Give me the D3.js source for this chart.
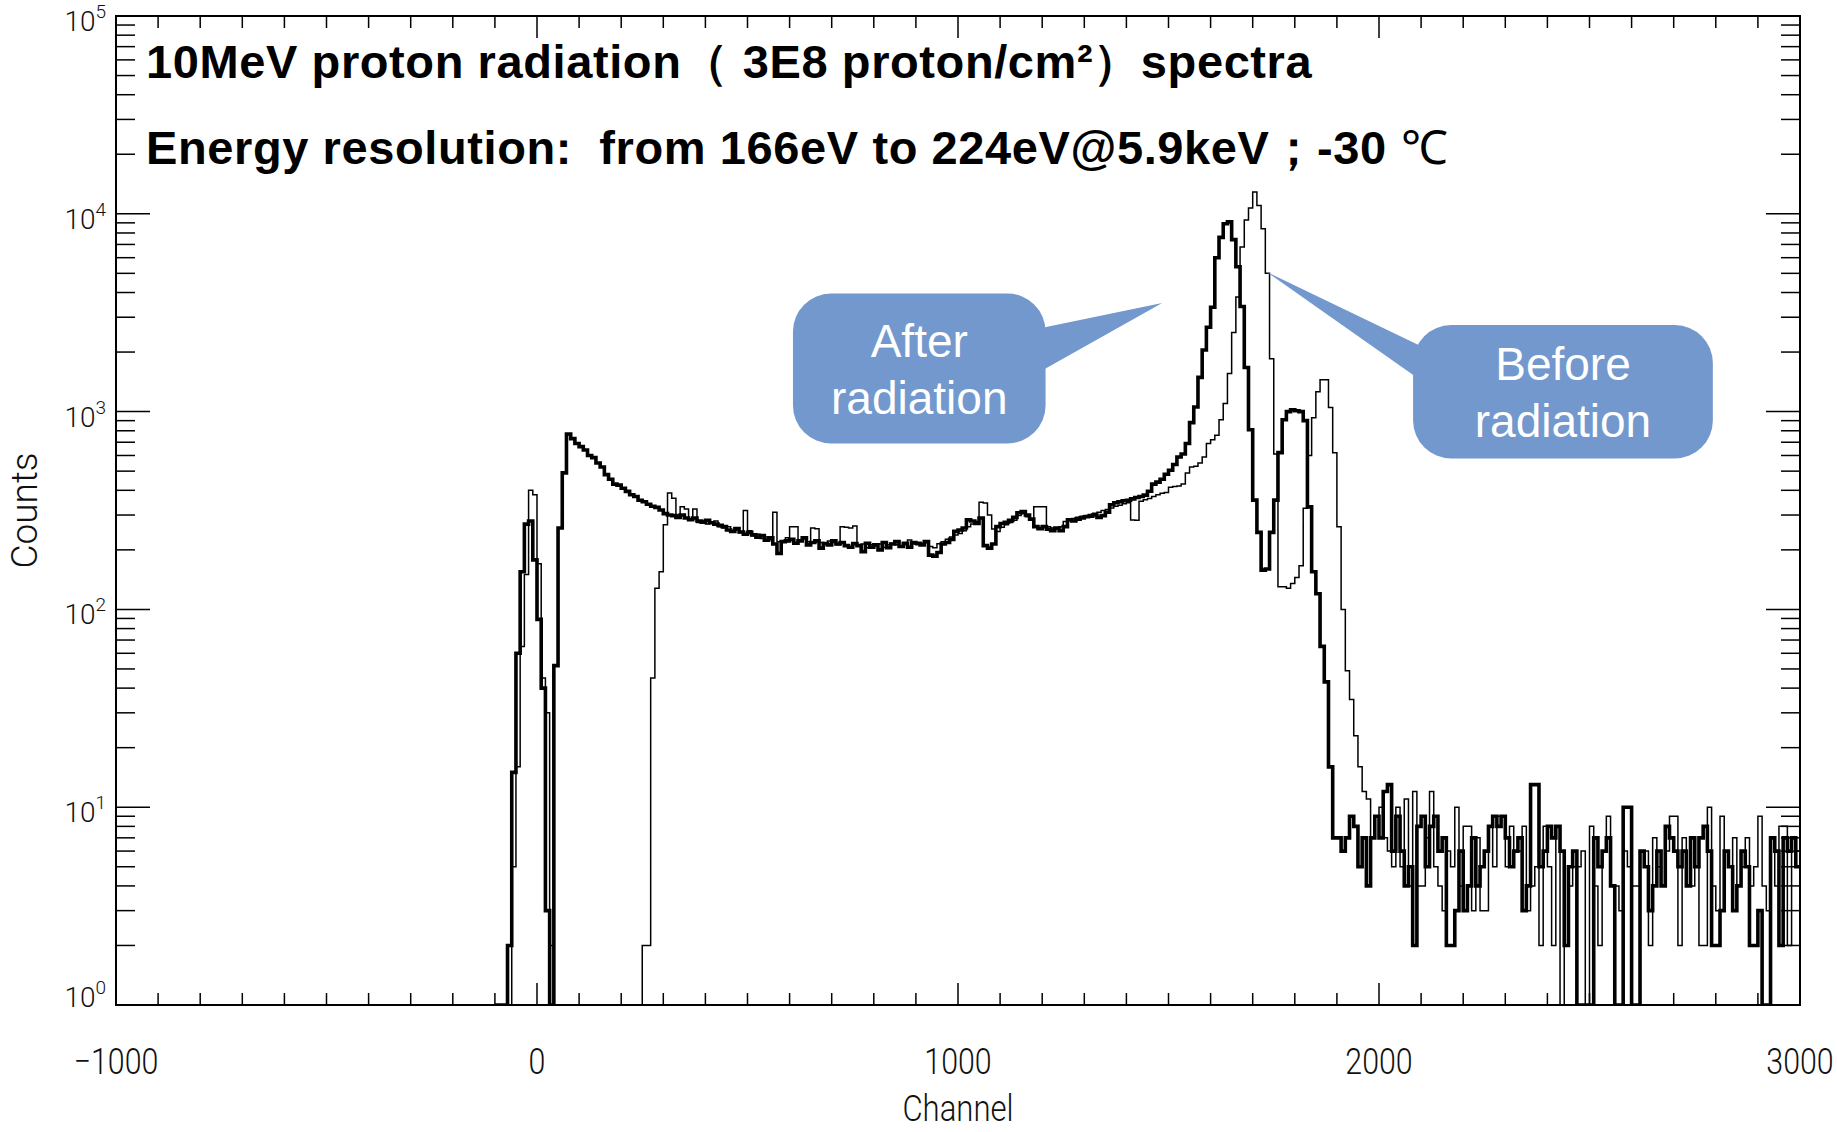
<!DOCTYPE html>
<html lang="en">
<head>
<meta charset="utf-8">
<title>10MeV proton radiation spectra</title>
<style>
  body { margin: 0; background: white; }
  svg { display: block; background: white; }
  .axis-label { font-family: Roboto, "Liberation Sans", Arial, sans-serif; font-weight: 300; fill: #111; }
  .title { font-family: "Liberation Sans", Arial, sans-serif; font-weight: bold; fill: #000; white-space: pre; letter-spacing: 0.6px; }
  .callout-text { font-family: "Liberation Sans", Arial, sans-serif; fill: #fff; }
</style>
<script src="https://cdn.jsdelivr.net/npm/d3@7"></script>
</head>
<body>
<script>
let width = 1837
let height = 1132
let plot = {left: 116, right: 1800, top: 16, bottom: 1005}

// histogram bins: 10 channels wide, first bin starts at channel -100
let binStart = -100
let binWidth = 10

// after radiation (thick line), one row = 100 channels
let afterCounts = [
  1, 1, 1, 2, 15, 60, 155, 270, 280, 178,
  89, 40, 3, 1, 52, 258, 490, 770, 730, 690,
  665, 640, 600, 585, 550, 525, 480, 455, 430, 425,
  410, 395, 380, 372, 356, 350, 340, 332, 328, 318,
  305, 300, 298, 292, 300, 290, 284, 290, 280, 276,
  282, 274, 270, 266, 262, 252, 248, 256, 246, 240,
  245, 238, 232, 236, 224, 230, 214, 192, 220, 222,
  226, 216, 222, 230, 212, 218, 222, 204, 215, 212,
  222, 214, 218, 210, 206, 215, 210, 196, 216, 206,
  212, 200, 218, 205, 214, 220, 208, 216, 206, 218,
  216, 212, 220, 188, 186, 194, 214, 218, 226, 248,
  252, 258, 284, 280, 272, 290, 210, 204, 214, 262,
  272, 276, 282, 292, 308, 312, 300, 286, 262, 256,
  262, 254, 250, 258, 250, 262, 284, 280, 286, 290,
  294, 296, 300, 292, 298, 310, 338, 346, 350, 354,
  356, 362, 368, 372, 378, 396, 430, 440, 455, 482,
  505, 540, 590, 610, 690, 880, 1055, 1490, 2050, 2670,
  3370, 6000, 7600, 8900, 9100, 7400, 5400, 3400, 1670, 810,
  357, 245, 158, 160, 245, 357, 620, 910, 1000, 1020,
  1010, 1000, 900, 330, 155, 120, 65, 43, 16, 7,
  7, 6, 7, 9, 8, 5, 7, 4, 7, 9,
  7, 12, 13, 6, 9, 6, 4, 5, 2, 8,
  9, 5, 8, 9, 6, 7, 2, 2, 3, 6,
  3, 4, 7, 4, 5, 6, 8, 9, 8, 9,
  7, 5, 6, 7, 3, 4, 13, 13, 5, 6,
  8, 7, 8, 6, 2, 5, 6, 0, 0, 1,
  0, 7, 5, 6, 7, 4, 0, 0, 10, 10,
  0, 0, 6, 5, 3, 4, 6, 4, 8, 7,
  6, 5, 6, 4, 7, 5, 7, 8, 6, 2,
  2, 3, 6, 5, 3, 4, 6, 5, 2, 2,
  3, 0, 0, 7, 6, 2, 7, 6, 7, 5
]

// before radiation (thin line)
let beforeCounts = [
  0, 0, 0, 0, 5, 16, 65, 150, 400, 380,
  170, 45, 30, 2, 0, 0, 0, 0, 0, 0,
  0, 0, 0, 0, 0, 0, 0, 0, 0, 0,
  0, 0, 0, 0, 0, 2, 2, 45, 128, 155,
  268, 388, 365, 300, 330, 322, 285, 322, 275, 280,
  270, 276, 280, 262, 258, 262, 248, 252, 244, 316,
  250, 236, 240, 228, 232, 225, 310, 220, 222, 230,
  262, 262, 224, 230, 220, 258, 256, 218, 214, 222,
  218, 212, 262, 260, 258, 264, 210, 214, 205, 212,
  210, 214, 206, 212, 216, 212, 208, 212, 224, 215,
  212, 216, 218, 208, 205, 215, 220, 226, 232, 238,
  242, 250, 262, 270, 278, 348, 345, 300, 255, 248,
  260, 268, 275, 282, 298, 305, 294, 282, 330, 330,
  330, 262, 258, 256, 262, 278, 282, 288, 292, 296,
  298, 302, 306, 310, 316, 320, 326, 332, 336, 342,
  346, 283, 282, 352, 358, 364, 372, 380, 386, 390,
  415, 418, 420, 430, 490, 525, 530, 550, 590, 690,
  720, 760, 910, 1100, 1560, 2510, 3800, 6800, 9300, 10700,
  12900, 11000, 8400, 5000, 1850, 610, 130, 130, 128, 135,
  145, 166, 325, 600, 930, 1260, 1450, 1450, 1050, 620,
  262, 100, 49, 35, 23, 16, 12, 11, 7, 9,
  10, 7, 6, 5, 10, 5, 11, 4, 12, 4,
  4, 7, 12, 5, 4, 3, 6, 5, 10, 4,
  8, 8, 3, 7, 3, 3, 8, 5, 9, 9,
  5, 8, 6, 6, 8, 3, 4, 5, 2, 8,
  5, 2, 8, 0, 2, 4, 5, 5, 6, 0,
  8, 4, 2, 6, 9, 4, 4, 3, 6, 5,
  4, 4, 6, 6, 2, 7, 5, 4, 6, 9,
  9, 2, 7, 4, 4, 5, 2, 2, 10, 4,
  3, 9, 6, 5, 7, 4, 5, 7, 4, 5,
  9, 4, 3, 7, 4, 8, 8, 2, 7, 6
]

let xDomain = [-1000, 3000]
let yDomain = [1, 100000]
let xTickLabels = [-1000, 0, 1000, 2000, 3000]
let yTickExponents = [0, 1, 2, 3, 4, 5]

let titleLines = [
  "10MeV proton radiation\uFF08 3E8 proton/cm\u00B2\uFF09spectra",
  "Energy resolution:  from 166eV to 224eV@5.9keV\uFF1B-30 "
]

// callouts in data space: box [ch0, ch1, countTop, countBottom], tip, base side
let calloutNames = ["After radiation", "Before radiation"]
let calloutLines = [["After", "radiation"], ["Before", "radiation"]]
let calloutBoxes = [[608, 1208, 3950, 690], [2081, 2793, 2740, 580]]
let calloutTips = [[1485, 3540], [1732, 5100]]
let calloutBases = [[1208, 2550, 1450], [2081, 2000, 1300]]

let svg = d3.select("body").append("svg")
  .attr("width", width)
  .attr("height", height)

let x = d3.scaleLinear().domain(xDomain).range([plot.left, plot.right])
let y = d3.scaleLog().domain(yDomain).range([plot.bottom, plot.top])

svg.append("clipPath").attr("id", "plot-clip")
  .append("rect")
  .attr("x", plot.left).attr("y", plot.top - 4)
  .attr("width", plot.right - plot.left)
  .attr("height", plot.bottom - plot.top + 4)

// ---- histograms ----
let toSteps = (counts) => {
  let pts = counts.map((c, i) => [binStart + i * binWidth, c])
  pts.push([binStart + counts.length * binWidth, counts[counts.length - 1]])
  return pts
}

let stepLine = d3.line()
  .x(d => x(d[0]))
  .y(d => y(Math.max(d[1], 1)))
  .curve(d3.curveStepAfter)

let series = svg.append("g").attr("clip-path", "url(#plot-clip)")

series.append("path")
  .datum(toSteps(beforeCounts))
  .attr("d", stepLine)
  .attr("fill", "none")
  .attr("stroke", "#000")
  .attr("stroke-width", 1.5)

series.append("path")
  .datum(toSteps(afterCounts))
  .attr("d", stepLine)
  .attr("fill", "none")
  .attr("stroke", "#000")
  .attr("stroke-width", 3.6)

// ---- frame and ticks (IDL style box with inward ticks) ----
let axes = svg.append("g").attr("stroke", "#000")

axes.append("rect")
  .attr("x", plot.left).attr("y", plot.top)
  .attr("width", plot.right - plot.left)
  .attr("height", plot.bottom - plot.top)
  .attr("fill", "none")
  .attr("stroke-width", 2)

let xMinor = d3.range(xDomain[0], xDomain[1] + 1, 100)
let tickLen = v => (v % 1000 === 0 ? 22 : 12)

axes.selectAll(".xtick-b").data(xMinor).enter().append("line")
  .attr("x1", d => x(d)).attr("x2", d => x(d))
  .attr("y1", plot.bottom).attr("y2", d => plot.bottom - tickLen(d))
  .attr("stroke-width", 1.5)

axes.selectAll(".xtick-t").data(xMinor).enter().append("line")
  .attr("x1", d => x(d)).attr("x2", d => x(d))
  .attr("y1", plot.top).attr("y2", d => plot.top + tickLen(d))
  .attr("stroke-width", 1.5)

let yMinor = []
for (let e = 0; e < 5; e++) {
  for (let m = 1; m < 10; m++) yMinor.push({v: m * Math.pow(10, e), major: m === 1})
}
yMinor.push({v: 100000, major: true})

axes.selectAll(".ytick-l").data(yMinor).enter().append("line")
  .attr("x1", plot.left).attr("x2", d => plot.left + (d.major ? 34 : 19))
  .attr("y1", d => y(d.v)).attr("y2", d => y(d.v))
  .attr("stroke-width", 1.5)

axes.selectAll(".ytick-r").data(yMinor).enter().append("line")
  .attr("x1", plot.right).attr("x2", d => plot.right - (d.major ? 34 : 19))
  .attr("y1", d => y(d.v)).attr("y2", d => y(d.v))
  .attr("stroke-width", 1.5)

// ---- tick labels ----
svg.selectAll(".xlabel").data(xTickLabels).enter().append("g")
  .attr("transform", d => `translate(${x(d)}, 1074)`)
  .append("text")
  .attr("class", "axis-label")
  .attr("text-anchor", "middle")
  .attr("font-size", 37)
  .attr("transform", "scale(0.82,1)")
  .text(d => String(d).replace("-", "\u2212"))

let yLabels = svg.selectAll(".ylabel").data(yTickExponents).enter().append("text")
  .attr("class", "axis-label")
  .attr("x", 106)
  .attr("y", d => y(Math.pow(10, d)) + (d === 0 ? 2 : 15))
  .attr("text-anchor", "end")
  .attr("font-size", 28)
  .text("10")

yLabels.append("tspan")
  .attr("dy", -13)
  .attr("font-size", 19)
  .text(d => d)

svg.append("g")
  .attr("transform", `translate(${x(1000)}, 1121)`)
  .append("text")
  .attr("class", "axis-label")
  .attr("text-anchor", "middle")
  .attr("font-size", 37)
  .attr("transform", "scale(0.84,1)")
  .text("Channel")

svg.append("text")
  .attr("class", "axis-label")
  .attr("transform", `translate(37, ${(plot.top + plot.bottom) / 2}) rotate(-90)`)
  .attr("text-anchor", "middle")
  .attr("font-size", 37)
  .text("Counts")

// ---- titles ----
svg.append("text").attr("class", "title")
  .attr("x", 146).attr("y", 78)
  .attr("font-size", 47)
  .text(titleLines[0])

let t2 = svg.append("text").attr("class", "title")
  .attr("x", 146).attr("y", 164)
  .attr("font-size", 47)
  .text(titleLines[1])
t2.append("tspan").attr("font-weight", "normal").text("\u2103")

// ---- callouts ----
let callouts = svg.append("g")

calloutNames.forEach((name, i) => {
  let b = calloutBoxes[i]
  let tip = calloutTips[i]
  let base = calloutBases[i]
  let g = callouts.append("g").attr("class", "callout").attr("data-name", name)
  let bx0 = x(b[0]), bx1 = x(b[1]), by0 = y(b[2]), by1 = y(b[3])
  // wedge pointing at the peak, its base sits on the box side
  let inset = base[0] === b[0] ? 20 : -20
  g.append("path")
    .attr("d", d3.line()([
      [x(base[0]) + inset, y(base[1])],
      [x(tip[0]), y(tip[1])],
      [x(base[0]) + inset, y(base[2])]
    ]) + "Z")
    .attr("fill", "#7398ce")
  g.append("rect")
    .attr("x", bx0).attr("y", by0)
    .attr("width", bx1 - bx0).attr("height", by1 - by0)
    .attr("rx", 38).attr("ry", 38)
    .attr("fill", "#7398ce")
  let cx = (bx0 + bx1) / 2, cy = (by0 + by1) / 2
  g.selectAll("text").data(calloutLines[i]).enter().append("text")
    .attr("class", "callout-text")
    .attr("x", cx)
    .attr("y", (d, j) => cy - 12 + j * 57)
    .attr("text-anchor", "middle")
    .attr("font-size", 46)
    .text(d => d)
})
</script>
</body>
</html>
